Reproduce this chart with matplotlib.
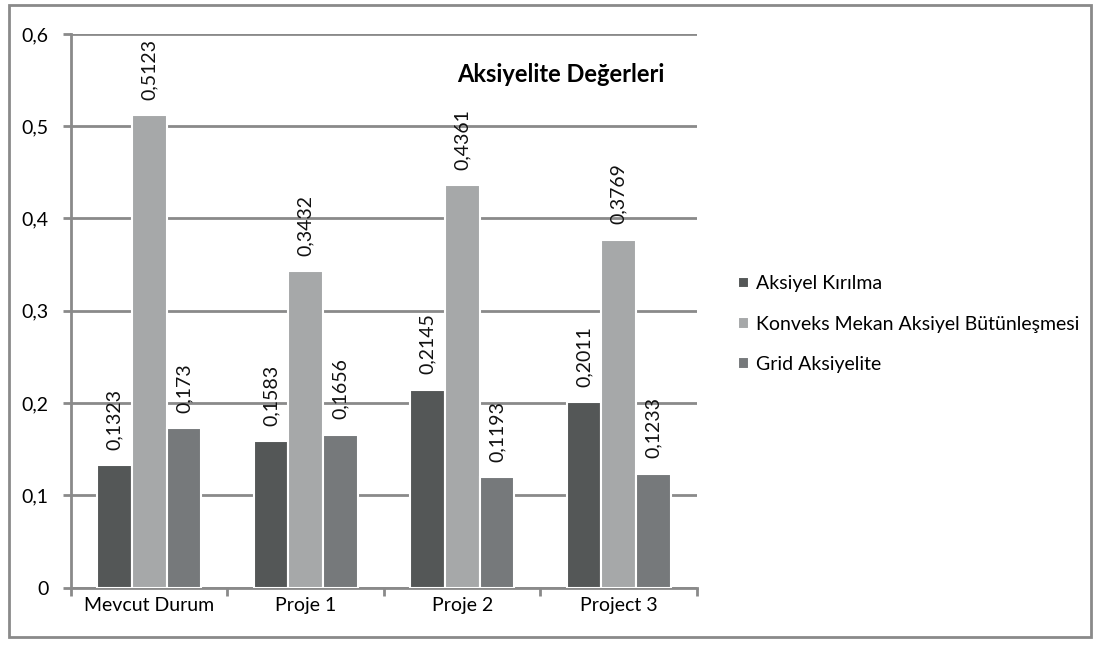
import numpy as np
import matplotlib.pyplot as plt
from matplotlib.patches import Rectangle

plt.rcParams['font.family'] = ['Lato', 'DejaVu Sans']

categories = ["Mevcut Durum", "Proje 1", "Proje 2", "Project 3"]
series_names = ["Aksiyel Kırılma", "Konveks Mekan Aksiyel Bütünleşmesi", "Grid Aksiyelite"]
kirilma = [0.1323, 0.1583, 0.2145, 0.2011]
konveks = [0.5123, 0.3432, 0.4361, 0.3769]
grid = [0.173, 0.1656, 0.1193, 0.1233]
colors = ["#545757", "#a6a8a9", "#76797b"]
grid_color = "#8a8a8a"

fig = plt.figure(figsize=(11, 6.46), dpi=100)
ax = fig.add_axes([0.0645, 0.0905, 0.569, 0.857])

x = np.arange(len(categories))
width = 0.222
for i, (vals, name) in enumerate(zip([kirilma, konveks, grid], series_names)):
    pos = x + (i - 1) * width
    bars = ax.bar(pos, vals, width, color=colors[i], edgecolor="white",
                  linewidth=1.5, label=name, zorder=3)
    for b, v in zip(bars, vals):
        txt = ("%g" % v).replace(".", ",")
        ax.annotate(txt, (b.get_x() + b.get_width() / 2, v),
                    xytext=(0, 11), textcoords="offset points",
                    rotation=90, ha="center", va="bottom", fontsize=14,
                    color="#111111")

ax.set_xlim(-0.5, len(categories) - 0.5)
ax.set_ylim(0, 0.6)
yt = np.arange(0, 0.61, 0.1).round(1)
ax.set_yticks(yt)
ax.set_yticklabels([("%g" % t).replace(".", ",") for t in yt], fontsize=14)
ax.yaxis.grid(True, color=grid_color, linewidth=2, zorder=0)

ax.set_xticks(x)
ax.set_xticklabels(categories, fontsize=14)
ax.set_xticks(np.arange(-0.5, len(categories), 1), minor=True)
ax.tick_params(axis="x", which="major", length=0, pad=7)
ax.tick_params(axis="x", which="minor", length=6, width=2, color=grid_color)
ax.tick_params(axis="y", length=6, width=2, color=grid_color, pad=10)

for side in ["top", "right"]:
    ax.spines[side].set_visible(False)
for side in ["left", "bottom"]:
    ax.spines[side].set_color(grid_color)
    ax.spines[side].set_linewidth(2)

ax.text(0.949, 0.926, "Aksiyelite Değerleri", transform=ax.transAxes,
        ha="right", va="center", fontsize=17, fontweight="bold")

fig.legend(loc="upper left", bbox_to_anchor=(0.655, 0.601), frameon=False,
           fontsize=14, handlelength=0.55, handleheight=0.55,
           handletextpad=0.4, labelspacing=1.2)

fig.patches.append(Rectangle((0.008, 0.014), 0.984, 0.978, transform=fig.transFigure,
                             fill=False, edgecolor=grid_color, linewidth=2))

fig.savefig("out.png", dpi=100)
